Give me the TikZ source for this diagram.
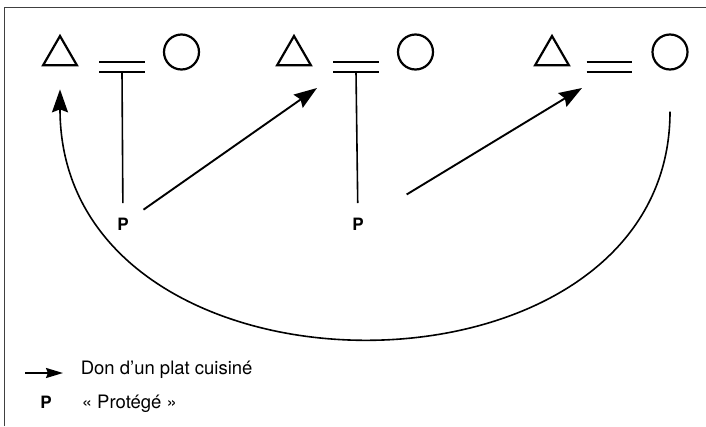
\documentclass[tikz,border=0pt]{standalone}
\usepackage{fontspec}
\setmainfont{TeX Gyre Heros}
\usetikzlibrary{shapes.geometric,arrows.meta}
\begin{document}
\begin{tikzpicture}[x=1pt, y=-1pt, >={Stealth[length=23pt,width=16pt,inset=3pt]}, line width=1.6pt,
  font=\fontsize{18.5}{22}\selectfont,
  man/.style={draw, regular polygon, regular polygon sides=3, minimum size=39pt, inner sep=0pt, line width=2.2pt},
  woman/.style={draw, circle, minimum size=35pt, inner sep=0pt, line width=2.2pt},
  wed/.style={minimum width=44pt, minimum height=8pt, inner sep=0pt},
  prot/.style={font=\fontsize{17}{20}\bfseries, inner sep=14pt}]
\useasboundingbox (0,0) rectangle (706,426);
\draw[line width=1pt, black!75] (4,426) -- (4,7) -- (706,7);
% couples
\node[man] (h1) at (60,55.5) {};
\node[wed] (m1) at (122,67) {};
\node[woman] (w1) at (181.5,52) {};
\node[man] (h2) at (294,55.5) {};
\node[wed] (m2) at (356,67) {};
\node[woman] (w2) at (415.5,52) {};
\node[man] (h3) at (552,55.5) {};
\node[wed] (m3) at (609.5,67) {};
\node[woman] (w3) at (670,52) {};
\draw[line width=2.2pt] (m1.north west) -- (m1.north east) (m1.south west) -- (m1.south east);
\draw[line width=2.2pt] (m2.north west) -- (m2.north east) (m2.south west) -- (m2.south east);
\draw[line width=2.2pt] (m3.north west) -- (m3.north east) (m3.south west) -- (m3.south east);
% proteges
\node[prot] (p1) at (123,224) {P};
\node[prot] (p2) at (358,224) {P};
\draw (m1.south) -- (p1);
\draw (m2.south) -- (p2);
\coordinate (t2) at (317,88);
\coordinate (t3) at (582,88);
\draw[->, line width=1.9pt] (p1) -- (t2);
\draw[->, line width=1.9pt, shorten <=33pt] (p2) -- (t3);
\draw[->, shorten <=41pt, shorten >=23pt] (w3.south) .. controls (670,417) and (60,417) .. (h1.south);
% legend
\coordinate (la) at (25,373);
\coordinate (lb) at (63,373);
\draw[-{Stealth[length=17pt,width=10pt,inset=2pt]}, line width=1.9pt] (la) -- (lb);
\node[anchor=base west, inner sep=0pt] (don) at (80,374) {Don d'un plat cuisiné};
\node[anchor=base, inner sep=0pt, font=\fontsize{17}{20}\bfseries] (pk) at (46,408) {P};
\node[anchor=base west, inner sep=0pt] (pro) at (81,408) {« Protégé »};
\end{tikzpicture}
\end{document}
